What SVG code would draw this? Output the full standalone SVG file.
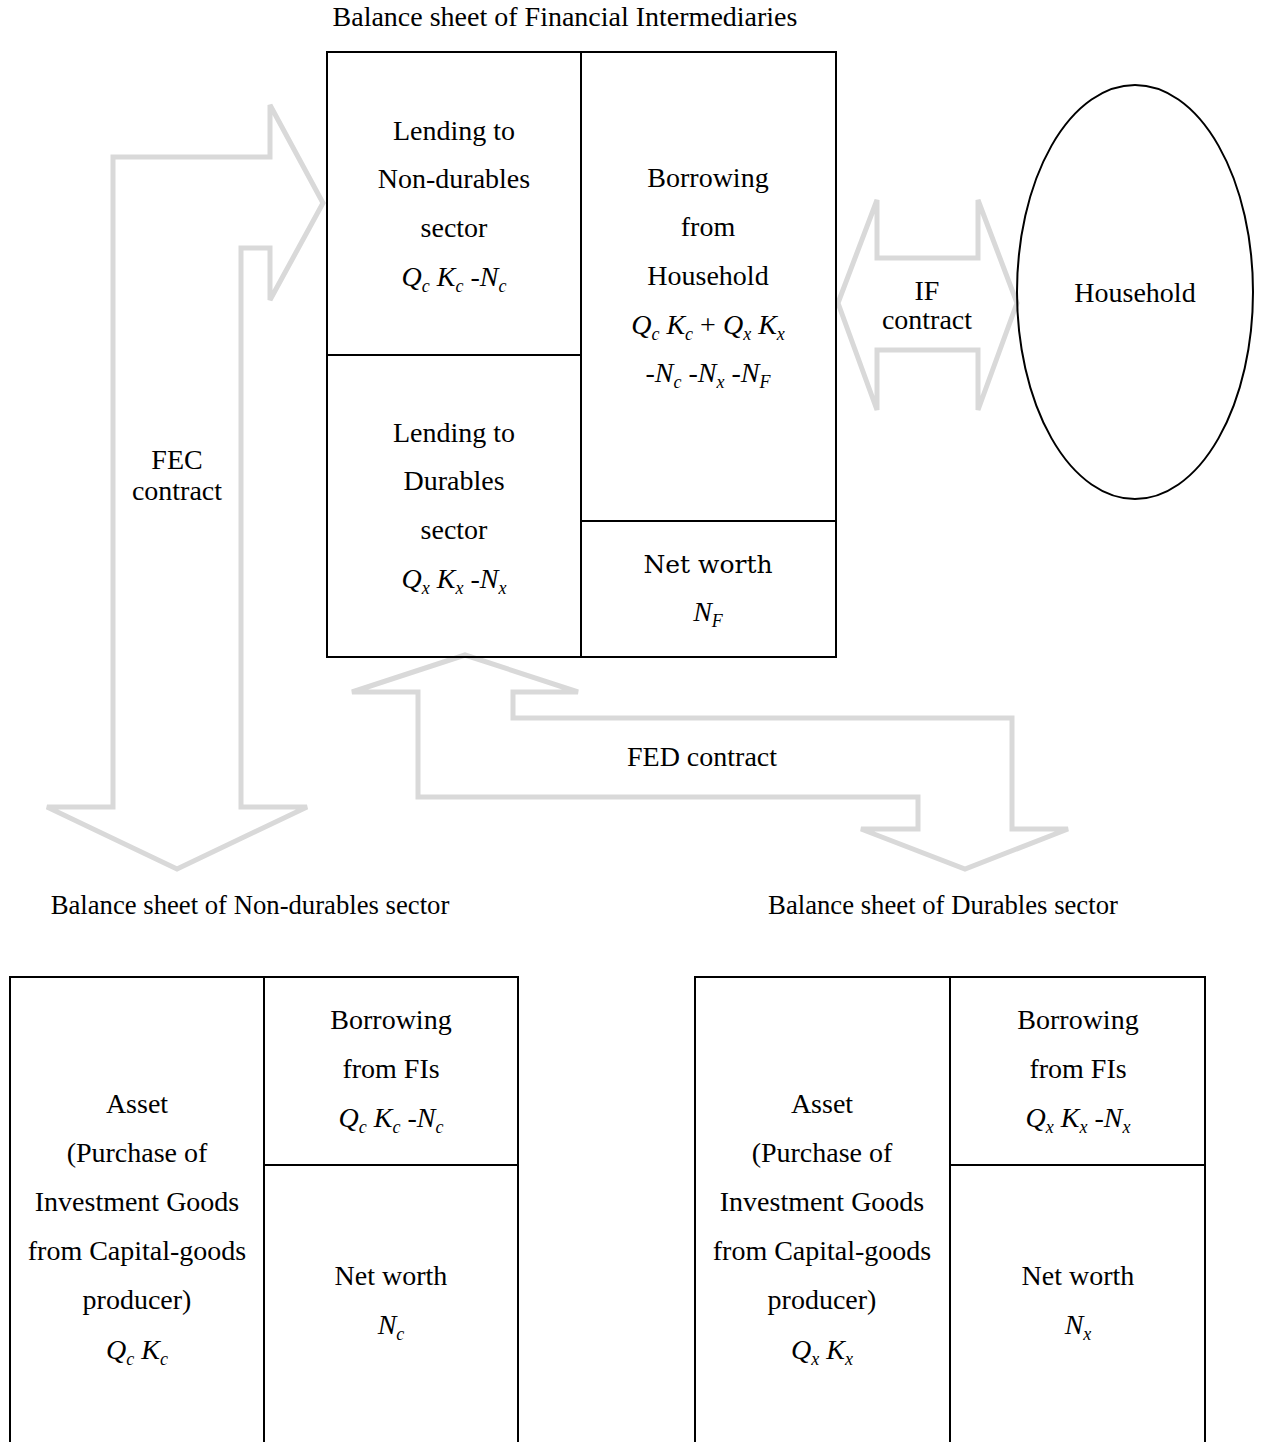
<svg xmlns="http://www.w3.org/2000/svg" width="1262" height="1442" viewBox="0 0 1262 1442">
<style>
text{font-family:"Liberation Serif","Times New Roman",serif;font-size:28px;fill:#000;text-anchor:middle}
.t{font-size:26.7px}
.m{font-style:italic}
.s{font-size:18px;font-style:italic}
.r{font-style:normal}
.c{font-family:"DejaVu Serif","Liberation Serif",serif;font-size:25px}
.box{fill:none;stroke:#000;stroke-width:2}
.arr{fill:none;stroke:#d9d9d9;stroke-width:5;stroke-linejoin:miter}
</style>
<rect width="1262" height="1442" fill="#fff"/>

<g id="connectors">
<polygon id="fec" class="arr" points="113,157 270,157 270,105 323,203 270,300 270,248 241,248 241,807 307,807 177,869 47,807 113,807"/>
<polygon id="fed" class="arr" points="465,655 578,692 513,692 513,718 1012,718 1012,829 1068,829 965,869 861,829 918,829 918,797 418,797 418,692 352,692"/>
<polygon id="if" class="arr" points="838,303 877,200 877,258 978,258 978,200 1017,303 978,410 978,350 877,350 877,410"/>
<text x="177" y="469">FEC</text>
<text x="177" y="500">contract</text>
<text x="702" y="766">FED contract</text>
<text x="927" y="300">IF</text>
<text x="927" y="329">contract</text>
</g>

<g id="fi">
<text x="565" y="26">Balance sheet of Financial Intermediaries</text>
<rect class="box" x="327" y="52" width="509" height="605"/>
<line class="box" x1="581" y1="52" x2="581" y2="657"/>
<line class="box" x1="327" y1="355" x2="581" y2="355"/>
<line class="box" x1="581" y1="521" x2="836" y2="521"/>
<text x="454" y="140">Lending to</text>
<text x="454" y="188">Non-durables</text>
<text x="454" y="237">sector</text>
<text x="454" y="286" class="m">Q<tspan class="s" dy="6">c</tspan><tspan dy="-6"> K</tspan><tspan class="s" dy="6">c</tspan><tspan dy="-6"> -N</tspan><tspan class="s" dy="6">c</tspan></text>
<text x="454" y="442">Lending to</text>
<text x="454" y="490">Durables</text>
<text x="454" y="539">sector</text>
<text x="454" y="588" class="m">Q<tspan class="s" dy="6">x</tspan><tspan dy="-6"> K</tspan><tspan class="s" dy="6">x</tspan><tspan dy="-6"> -N</tspan><tspan class="s" dy="6">x</tspan></text>
<text x="708" y="187">Borrowing</text>
<text x="708" y="236">from</text>
<text x="708" y="285">Household</text>
<text x="708" y="334" class="m">Q<tspan class="s" dy="6">c</tspan><tspan dy="-6"> K</tspan><tspan class="s" dy="6">c</tspan><tspan dy="-6" class="r"> + </tspan><tspan>Q</tspan><tspan class="s" dy="6">x</tspan><tspan dy="-6"> K</tspan><tspan class="s" dy="6">x</tspan></text>
<text x="708" y="382" class="m">-N<tspan class="s" dy="6">c</tspan><tspan dy="-6"> -N</tspan><tspan class="s" dy="6">x</tspan><tspan dy="-6"> -N</tspan><tspan class="s" dy="6">F</tspan></text>
<text x="708" y="573" class="c">Net worth</text>
<text x="708" y="621" class="m">N<tspan class="s" dy="6">F</tspan></text>
</g>

<g id="household">
<ellipse class="box" cx="1135" cy="292" rx="118" ry="207"/>
<text x="1135" y="302">Household</text>
</g>

<g id="nondurables">
<text x="250" y="914" class="t">Balance sheet of Non-durables sector</text>
<rect class="box" x="10" y="977" width="508" height="500"/>
<line class="box" x1="264" y1="977" x2="264" y2="1442"/>
<line class="box" x1="264" y1="1165" x2="518" y2="1165"/>
<text x="137" y="1113">Asset</text>
<text x="137" y="1162">(Purchase of</text>
<text x="137" y="1211">Investment Goods</text>
<text x="137" y="1260">from Capital-goods</text>
<text x="137" y="1309">producer)</text>
<text x="137" y="1359" class="m">Q<tspan class="s" dy="6">c</tspan><tspan dy="-6"> K</tspan><tspan class="s" dy="6">c</tspan></text>
<text x="391" y="1029">Borrowing</text>
<text x="391" y="1078">from FIs</text>
<text x="391" y="1127" class="m">Q<tspan class="s" dy="6">c</tspan><tspan dy="-6"> K</tspan><tspan class="s" dy="6">c</tspan><tspan dy="-6"> -N</tspan><tspan class="s" dy="6">c</tspan></text>
<text x="391" y="1285">Net worth</text>
<text x="391" y="1334" class="m">N<tspan class="s" dy="6">c</tspan></text>
</g>

<g id="durables">
<text x="943" y="914" class="t">Balance sheet of Durables sector</text>
<rect class="box" x="695" y="977" width="510" height="500"/>
<line class="box" x1="950" y1="977" x2="950" y2="1442"/>
<line class="box" x1="950" y1="1165" x2="1205" y2="1165"/>
<text x="822" y="1113">Asset</text>
<text x="822" y="1162">(Purchase of</text>
<text x="822" y="1211">Investment Goods</text>
<text x="822" y="1260">from Capital-goods</text>
<text x="822" y="1309">producer)</text>
<text x="822" y="1359" class="m">Q<tspan class="s" dy="6">x</tspan><tspan dy="-6"> K</tspan><tspan class="s" dy="6">x</tspan></text>
<text x="1078" y="1029">Borrowing</text>
<text x="1078" y="1078">from FIs</text>
<text x="1078" y="1127" class="m">Q<tspan class="s" dy="6">x</tspan><tspan dy="-6"> K</tspan><tspan class="s" dy="6">x</tspan><tspan dy="-6"> -N</tspan><tspan class="s" dy="6">x</tspan></text>
<text x="1078" y="1285">Net worth</text>
<text x="1078" y="1334" class="m">N<tspan class="s" dy="6">x</tspan></text>
</g>
</svg>
